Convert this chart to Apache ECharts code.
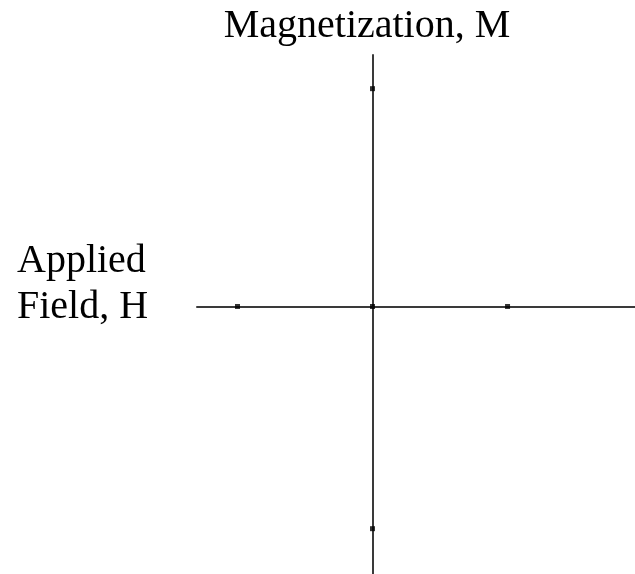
<!DOCTYPE html>
<html>
<head>
<meta charset="utf-8">
<script src="https://cdn.jsdelivr.net/npm/echarts@6/dist/echarts.min.js"></script>
<style>
  html, body { margin: 0; padding: 0; background: #fff; }
  #chart { width: 635px; height: 574px; }
</style>
</head>
<body>
<div id="chart"></div>
<script>
// Marked points on the H (horizontal) and M (vertical) axes
const fieldH = [-1, 0, 1, 0, 0];
const magM = [0, 0, 0, 0.99, -1.01];

// Axis extents
const hRange = [-1.3, 1.944];
const mRange = [-1.216, 1.143];

const yTitle = 'Magnetization, M';
const xTitle = 'Applied\nField, H';

const points = fieldH.map((h, i) => [h, magM[i]]);

const chart = echarts.init(document.getElementById('chart'));
const serif = '"Liberation Serif", "DejaVu Serif", serif';
chart.setOption({
  animation: false,
  backgroundColor: '#fff',
  title: [
    {
      text: yTitle,
      left: 367, top: 6, textAlign: 'center', padding: 0,
      textStyle: { fontFamily: serif, fontWeight: 'normal', fontSize: 40, color: '#000' }
    },
    {
      text: xTitle,
      left: 17, top: 238, padding: 0,
      textStyle: { fontFamily: serif, fontWeight: 'normal', fontSize: 40, lineHeight: 46, color: '#000' }
    }
  ],
  grid: { left: 197, right: 0, top: 55, bottom: 0 },
  xAxis: {
    type: 'value', min: hRange[0], max: hRange[1],
    axisLine: { onZero: true, lineStyle: { color: '#3a3a3a', width: 2 } },
    axisTick: { show: false }, axisLabel: { show: false }, splitLine: { show: false }
  },
  yAxis: {
    type: 'value', min: mRange[0], max: mRange[1],
    axisLine: { onZero: true, lineStyle: { color: '#3a3a3a', width: 2 } },
    axisTick: { show: false }, axisLabel: { show: false }, splitLine: { show: false }
  },
  series: [{
    type: 'scatter',
    data: points,
    symbol: 'rect',
    symbolSize: 5,
    itemStyle: { color: '#000' }
  }]
});
</script>
</body>
</html>
